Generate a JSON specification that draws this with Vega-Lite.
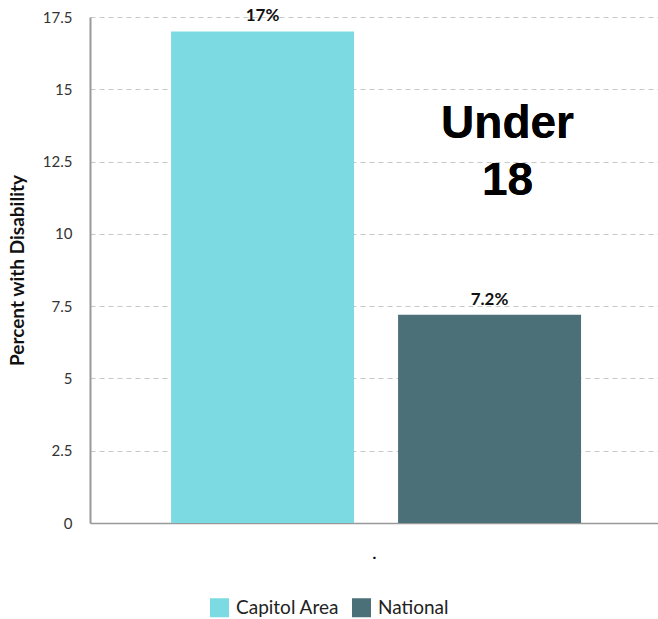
{
  "$schema": "https://vega.github.io/schema/vega-lite/v6.json",
  "autosize": "none",
  "width": 568,
  "height": 506,
  "padding": {"left": 90, "top": 17, "right": 0, "bottom": 96},
  "config": {
    "font": "Lato",
    "view": {"stroke": null},
    "axis": {"labelFont": "Lato", "titleFont": "Lato"}
  },
  "data": {
    "values": [
      {"group": "Capitol Area", "value": 17, "label": "17%"},
      {"group": "National", "value": 7.2, "label": "7.2%"}
    ]
  },
  "encoding": {
    "x": {
      "field": "group",
      "type": "nominal",
      "sort": ["Capitol Area", "National"],
      "scale": {"paddingInner": 0.194, "paddingOuter": 0.348, "align": 0.513},
      "axis": {
        "title": ".",
        "titleFontSize": 16,
        "titleFontWeight": "bold",
        "titleColor": "#000",
        "titlePadding": 22,
        "labels": false,
        "ticks": false,
        "domainColor": "#999",
        "domainWidth": 1.5
      }
    },
    "y": {
      "field": "value",
      "type": "quantitative",
      "scale": {"domain": [0, 17.5], "nice": false},
      "axis": {
        "title": "Percent with Disability",
        "titleFontSize": 19,
        "titleFontWeight": "bold",
        "titleColor": "#111",
        "titlePadding": 15,
        "values": [0, 2.5, 5, 7.5, 10, 12.5, 15, 17.5],
        "format": ".1~f",
        "labelFontSize": 15,
        "labelColor": "#333",
        "labelPadding": 18,
        "ticks": false,
        "domainColor": "#999",
        "domainWidth": 2,
        "gridColor": "#c8c8c8",
        "gridDash": [5, 4],
        "gridWidth": 1
      }
    }
  },
  "layer": [
    {
      "mark": {"type": "bar"},
      "encoding": {
        "color": {
          "field": "group",
          "type": "nominal",
          "scale": {"domain": ["Capitol Area", "National"], "range": ["#7CDBE2", "#4B7077"]},
          "legend": {
            "title": null,
            "orient": "none",
            "direction": "horizontal",
            "legendX": 120,
            "legendY": 581,
            "symbolType": "square",
            "symbolSize": 361,
            "symbolStrokeWidth": 0,
            "symbolOpacity": 1,
            "labelFontSize": 19,
            "labelColor": "#222",
            "labelFont": "Lato",
            "columnPadding": 12,
            "labelOffset": 7
          }
        }
      }
    },
    {
      "mark": {"type": "text", "baseline": "bottom", "dy": -6, "fontSize": 17, "fontWeight": "bold", "font": "Lato", "color": "#111"},
      "encoding": {"text": {"field": "label"}}
    },
    {
      "mark": {"type": "text", "font": "Liberation Sans", "fontWeight": "bold", "fontSize": 46, "lineHeight": 57, "baseline": "alphabetic", "align": "center", "dx": 18, "color": "#000"},
      "encoding": {
        "x": {"datum": "National"},
        "y": {"datum": 13.3},
        "text": {"value": ["Under", "18"]}
      }
    }
  ]
}
